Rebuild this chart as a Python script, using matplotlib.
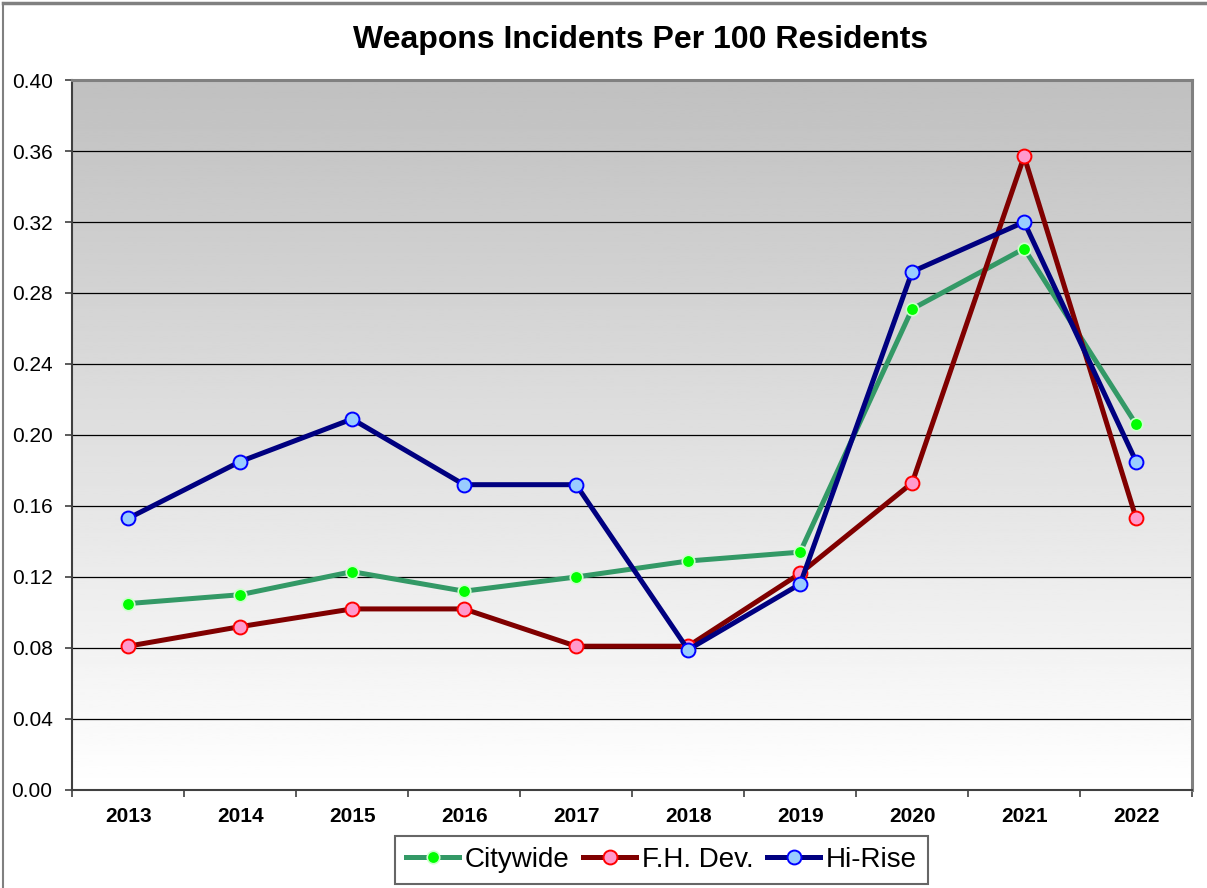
import matplotlib
matplotlib.use("Agg")
import matplotlib.pyplot as plt
import numpy as np
from matplotlib.lines import Line2D

plt.rcParams["font.family"] = ["Liberation Sans", "DejaVu Sans"]

years = ["2013", "2014", "2015", "2016", "2017", "2018", "2019", "2020", "2021", "2022"]
citywide = [0.105, 0.110, 0.123, 0.112, 0.120, 0.129, 0.134, 0.271, 0.305, 0.206]
fh_dev = [0.081, 0.092, 0.102, 0.102, 0.081, 0.081, 0.122, 0.173, 0.357, 0.153]
hi_rise = [0.153, 0.185, 0.209, 0.172, 0.172, 0.079, 0.116, 0.292, 0.320, 0.185]
y_ticks = [0.00, 0.04, 0.08, 0.12, 0.16, 0.20, 0.24, 0.28, 0.32, 0.36, 0.40]

fig = plt.figure(figsize=(12.07, 8.88), dpi=100)
ax = fig.add_axes([0.0597, 0.1104, 0.928, 0.7995])

x = np.arange(len(years))

# vertical grey-to-white background
grad = np.linspace(192, 255, 256).reshape(-1, 1) / 255.0
ax.imshow(grad, cmap="gray", vmin=0, vmax=1, aspect="auto",
          extent=(-0.5, len(years) - 0.5, 0.0, 0.40), origin="upper", zorder=0)

for yv in y_ticks[1:-1]:
    ax.axhline(yv, color="black", linewidth=0.9, zorder=1)

ax.plot(x, citywide, color="#339966", linewidth=3.6, marker="o", markersize=9,
        markerfacecolor="#00ff00", markeredgecolor="#ccffcc", markeredgewidth=1.2,
        label="Citywide", zorder=3)
ax.plot(x, fh_dev, color="#800000", linewidth=3.6, marker="o", markersize=10,
        markerfacecolor="#ff99cc", markeredgecolor="#ff0000", markeredgewidth=1.4,
        label="F.H. Dev.", zorder=3)
ax.plot(x, hi_rise, color="#000080", linewidth=3.6, marker="o", markersize=10,
        markerfacecolor="#99ccff", markeredgecolor="#0000ff", markeredgewidth=1.4,
        label="Hi-Rise", zorder=4)

ax.set_xlim(-0.5, len(years) - 0.5)
ax.set_ylim(0, 0.40)

ax.set_yticks(y_ticks)
ax.set_yticklabels([f"{v:.2f}" for v in y_ticks], fontsize=15)
ax.set_xticks(x)
ax.set_xticklabels(years, fontsize=15, fontweight="bold")
ax.set_xticks(np.arange(-0.5, len(years)), minor=True)
ax.tick_params(axis="x", which="major", length=0, pad=12)
ax.tick_params(axis="x", which="minor", length=5, width=1.2, color="#404040")
ax.tick_params(axis="y", length=5, width=1.2, color="#404040", pad=9)

for side in ("left", "bottom"):
    ax.spines[side].set_color("#404040")
    ax.spines[side].set_linewidth(1.5)
for side in ("top", "right"):
    ax.spines[side].set_color("#808080")
    ax.spines[side].set_linewidth(2.2)

fig.text(0.531, 0.955, "Weapons Incidents Per 100 Residents", fontsize=23,
         fontweight="bold", ha="center", va="center")

leg = fig.legend(loc="center", bbox_to_anchor=(0.548, 0.0315), ncol=3,
                 fontsize=20, frameon=True, fancybox=False, handlelength=1.9,
                 handletextpad=0.2, columnspacing=0.5, borderpad=0.4,
                 borderaxespad=0)
leg.get_frame().set_edgecolor("#404040")
leg.get_frame().set_linewidth(1.5)

# outer chart border
fig.add_artist(Line2D([0.0025, 1.0], [0.9965, 0.9965], color="#808080", linewidth=2.5))
fig.add_artist(Line2D([0.0025, 0.0025], [0.0, 0.9965], color="#808080", linewidth=1.5))

fig.savefig("out.png", dpi=100)
